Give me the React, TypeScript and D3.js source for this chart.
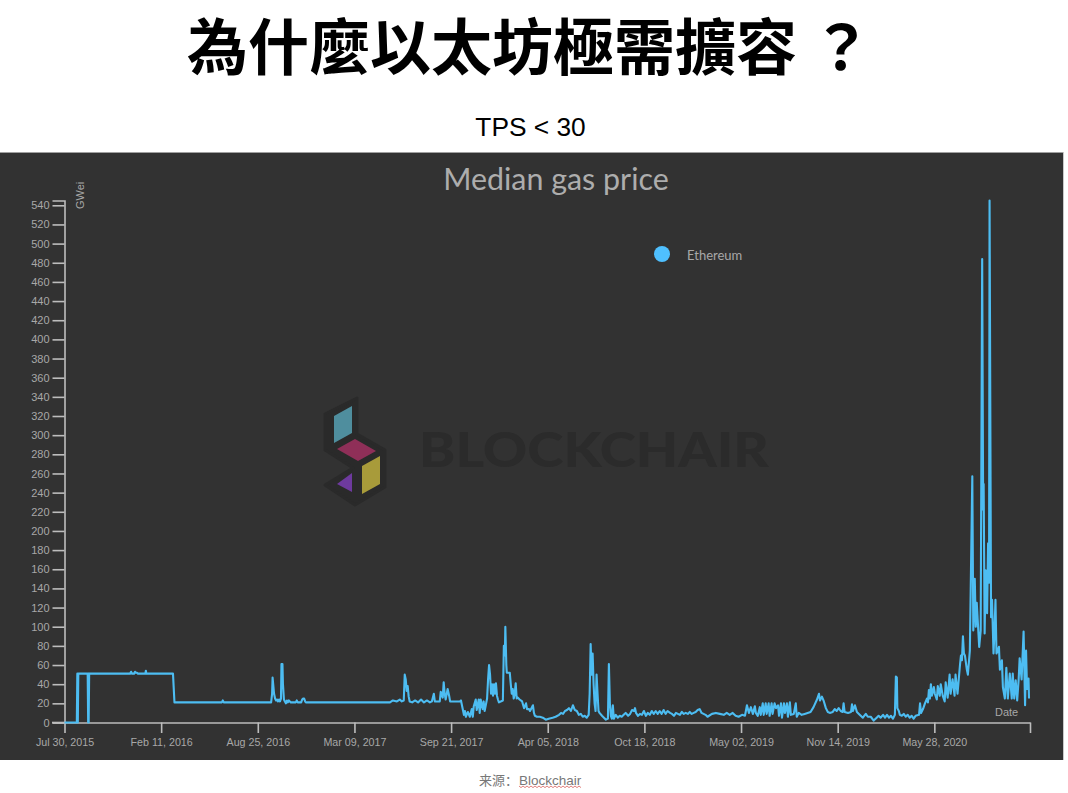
import React, { useEffect, useRef } from "react";
import * as d3 from "d3";

const chartTitle = "為什麼以太坊極需擴容 ？";
const subtitle = "TPS < 30";
const panelTitle = "Median gas price";
const seriesName = "Ethereum";
const startDate = new Date(Date.UTC(2015, 6, 30));
const endDate = new Date(Date.UTC(2020, 11, 8));

const xTickDates = [
  [2015, 6, 30], [2016, 1, 11], [2016, 7, 25], [2017, 2, 9], [2017, 8, 21],
  [2018, 3, 5], [2018, 9, 18], [2019, 4, 2], [2019, 10, 14], [2020, 4, 28], [2020, 11, 8],
].map(([y, m, d]) => new Date(Date.UTC(y, m, d)));
const xTickLabels = [
  "Jul 30, 2015", "Feb 11, 2016", "Aug 25, 2016", "Mar 09, 2017", "Sep 21, 2017",
  "Apr 05, 2018", "Oct 18, 2018", "May 02, 2019", "Nov 14, 2019", "May 28, 2020", "",
];
const yTicks = [
  0, 20, 40, 60, 80, 100, 120, 140, 160, 180, 200, 220, 240, 260, 280,
  300, 320, 340, 360, 380, 400, 420, 440, 460, 480, 500, 520, 540,
];

// [days since Jul 30 2015, median gas price in GWei]
const era2015: [number, number][] = [
  [0,0],[25,0],[26,51],[27,0],[28,51],[47,51],[48,0],[49,51],[49,0],[50,51],[133,51],[135,53],[137,51],[141,51],[143,53],[145,52],[147,52],[149,51],
  [164,51],[165,54],[166,51],[220,51],[223,21],[319,21],[321,23],[323,21],[419,21],[421,30],[422,47],[425,30],[427,25],
  [429,23],[431,24],[433,22],[435,24],[437,22],[439,25],[440,61],[442,61],[443,40],[445,24],[447,22],[449,20],[451,23],
  [453,21],[455,23],[457,22],[459,21],[469,21],[471,23],[473,21],[480,21],[482,24],[484,25],[486,25],[488,22],[490,21],
];
const era2017: [number, number][] = [
  [660,21],[666,23],[674,22],[680,24],[684,22],[688,23],[690,50],[692,45],[694,33],[696,38],[698,27],[700,22],[705,21],
  [711,23],[717,21],[723,24],[729,21],[735,23],[741,21],[745,22],[749,30],[751,22],[761,22],[763,32],[767,26],[769,42],
  [771,30],[773,24],[777,35],[780,28],[782,22],[802,22],[804,23],[808,13],[810,8],[812,12],[814,6],[818,11],[822,6],
  [826,14],[828,6],[830,17],[834,24],[836,13],[840,24],[842,10],[844,24],[848,14],[850,22],[852,12],[857,25],[859,45],
  [861,60],[863,50],[865,30],[867,40],[869,28],[871,40],[873,30],[875,41],[877,28],[879,24],[881,21],[889,23],[891,80],
  [893,70],[894,100],[896,60],[897,52],[903,52],[905,40],[907,30],[909,35],[911,25],[913,30],[915,41],[917,25],[919,26],
  [923,24],[928,22],[932,15],[936,20],[938,14],[942,14],[944,12],[948,16],[950,18],[952,10],[954,7],[958,6],
];
const era2018: [number, number][] = [
  [964,6],[970,5],[976,3],[982,4],[990,5],[996,6],[1003,8],[1007,10],[1011,9],[1015,12],[1019,13],[1023,15],[1027,12],
  [1031,18],[1035,13],[1039,12],[1043,8],[1047,9],[1051,6],[1055,7],[1059,5],[1063,8],[1065,30],[1067,82],[1069,50],
  [1071,72],[1073,40],[1075,20],[1077,12],[1079,50],[1081,30],[1083,12],[1085,10],[1090,7],[1094,5],[1098,3],[1102,4],
  [1104,61],[1106,20],[1108,7],[1110,4],[1112,18],[1114,4],[1118,8],[1122,5],[1126,7],[1130,6],[1134,8],[1138,10],
  [1143,7],[1147,9],[1151,13],[1155,12],[1157,15],[1159,10],[1163,7],[1167,9],[1171,8],[1175,12],[1179,7],[1183,10],
  [1187,8],[1191,12],[1195,9],[1199,12],[1203,9],[1207,12],[1211,9],[1215,13],[1219,9],[1223,12],[1228,10],[1232,9],
  [1236,7],[1240,10],[1244,9],[1248,8],[1252,11],[1256,9],[1260,10],[1264,9],[1268,11],[1272,9],[1276,10],[1280,11],
  [1284,13],[1288,14],[1292,10],[1296,9],[1300,8],[1304,6],[1313,9],[1321,10],[1329,9],
];
const era2019: [number, number][] = [
  [1337,8],[1343,10],[1349,8],[1355,10],[1361,7],[1367,6],[1374,8],[1380,7],[1384,18],[1388,10],[1392,16],[1396,9],
  [1400,17],[1402,10],[1406,7],[1410,16],[1412,8],[1416,20],[1418,8],[1422,20],[1424,9],[1428,20],[1430,7],[1434,20],
  [1436,9],[1440,20],[1443,15],[1447,18],[1449,7],[1453,20],[1455,5],[1459,20],[1461,10],[1465,20],[1467,6],[1471,21],
  [1473,8],[1479,9],[1483,20],[1485,6],[1489,10],[1495,8],[1501,9],[1507,10],[1513,11],[1519,16],[1526,24],[1530,30],
  [1532,23],[1536,27],[1540,22],[1544,15],[1548,11],[1552,10],[1558,11],[1562,14],[1566,12],[1570,15],[1574,12],
  [1578,11],[1580,20],[1582,11],[1589,10],[1595,11],[1597,19],[1599,12],[1603,18],[1607,11],[1611,9],[1619,5],[1625,9],
  [1629,6],[1635,6],[1641,2],[1647,5],[1651,7],[1655,5],[1660,8],[1664,5],[1668,8],[1672,5],[1676,7],[1680,4],[1684,8],
  [1686,48],[1688,47],[1689,15],[1692,12],[1694,8],[1698,7],[1702,9],[1706,6],[1710,8],[1714,5],[1718,7],[1722,4],[1726,7],
];
const era2020: [number, number][] = [
  [1733,8],[1735,20],[1737,10],[1741,14],[1745,20],[1749,25],[1751,21],[1753,34],[1755,25],[1757,40],[1759,28],[1763,37],
  [1765,30],[1769,24],[1771,38],[1775,28],[1777,40],[1781,28],[1785,22],[1787,42],[1791,26],[1795,50],[1797,30],[1801,45],
  [1805,28],[1807,50],[1811,30],[1814,48],[1816,60],[1818,70],[1820,65],[1822,90],[1824,72],[1826,70],[1830,55],[1832,50],
  [1836,75],[1841,257],[1843,96],[1846,150],[1848,100],[1850,125],[1855,79],[1858,96],[1861,484],[1863,222],[1864,249],
  [1866,93],[1868,159],[1871,114],[1873,187],[1875,146],[1876,545],[1879,110],[1881,128],[1884,72],[1886,96],[1888,128],
  [1890,72],[1895,79],[1897,55],[1901,65],[1903,37],[1907,25],[1910,57],[1913,25],[1917,51],[1921,25],[1923,51],[1926,25],
  [1929,44],[1932,23],[1935,45],[1937,67],[1941,45],[1945,95],[1948,18],[1950,75],[1952,35],[1955,46],[1956,25],
];
const series = [...era2015, ...era2017, ...era2018, ...era2019, ...era2020];

const LOGO_OUTLINE = "M325 414L357 398L357 434L385 450L385 487L355 505L325 485L353 468L325 450Z";

export default function App() {
  const xRef = useRef<SVGGElement>(null);
  const yRef = useRef<SVGGElement>(null);
  const x = d3.scaleUtc().domain([startDate, endDate]).range([64.5, 1030]);
  const y = d3.scaleLinear().domain([0, 545]).range([722.5, 200.5]);
  const line = d3
    .line<[number, number]>()
    .x((d) => x(d3.utcDay.offset(startDate, d[0])))
    .y((d) => y(d[1]));

  useEffect(() => {
    const style = (g: d3.Selection<SVGGElement, unknown, null, undefined>, size: number) => {
      g.selectAll("path, line").attr("stroke", "#bdbdbd").attr("stroke-width", 1.6);
      g.selectAll("text")
        .attr("fill", "#a8a8a8")
        .attr("font-family", "'Liberation Sans', Arial, sans-serif")
        .attr("font-size", size);
    };
    const gx = d3.select(xRef.current!);
    gx.call(
      d3.axisBottom(x).tickValues(xTickDates).tickSize(10.5).tickSizeOuter(0).tickPadding(5)
        .tickFormat((_, i) => xTickLabels[i]) as any
    );
    style(gx, 10.7);
    const gy = d3.select(yRef.current!);
    gy.call(d3.axisLeft(y).tickValues(yTicks).tickSize(12).tickSizeOuter(12).tickPadding(3).tickFormat(d3.format("d")) as any);
    style(gy, 11);
  }, []);

  const waveSegs = d3.range(0, 32);
  const wave = d3.line<number>().x((i) => 519 + i * 2).y((i) => 786 + (i % 2) * 1.6)(waveSegs);

  return (
    <svg width={1068} height={793} style={{ position: "absolute", left: 0, top: 0, background: "#fff" }}>
      <text x={187} y={70} fontFamily="'Noto Sans CJK TC'" fontWeight={700} fontSize={61} fill="#000">
        {chartTitle}
      </text>
      <text x={530.5} y={136} textAnchor="middle" fontFamily="'Liberation Sans'" fontSize={26.3} fill="#000">
        {subtitle}
      </text>

      <rect x={0} y={152} width={1064} height={608} fill="#323232" />
      <rect x={0} y={152} width={1064} height={1} fill="#a0a0a0" />
      <rect x={1063} y={152} width={1} height={608} fill="#c8c8c8" />

      <g>
        <path d={LOGO_OUTLINE} fill="#2a2a2a" stroke="#2a2a2a" strokeWidth={3} strokeLinejoin="round" />
        <polygon points="334,416 352,406 352,433 334,443" fill="#4f8e9e" />
        <polygon points="337,449 355,439 376,451 358,461" fill="#8f2f58" />
        <polygon points="362,466 380,456 380,484 362,494" fill="#a89b3a" />
        <polygon points="337,484 352,473 352,492" fill="#6e3a9e" />
        <text x={419} y={467} fontFamily="Lato, sans-serif" fontWeight={900} fontSize={47} fill="#2b2b2b" textLength={350} lengthAdjust="spacingAndGlyphs">
          BLOCKCHAIR
        </text>
      </g>

      <text x={556} y={190} textAnchor="middle" fontFamily="Lato, sans-serif" fontSize={30.4} fill="#adadad">
        {panelTitle}
      </text>
      <circle cx={662} cy={254} r={8} fill="#4fc0ff" />
      <text x={687} y={260} fontFamily="Lato, sans-serif" fontSize={13} fill="#a8a8a8">
        {seriesName}
      </text>

      <g ref={yRef} transform="translate(64.5,0)" />
      <g ref={xRef} transform="translate(0,722.5)" />
      <line x1={52} x2={64.5} y1={722.5} y2={722.5} stroke="#bdbdbd" strokeWidth={1.6} />
      <text transform="translate(84,209) rotate(-90)" fontFamily="'Liberation Sans'" fontSize={11} fill="#a8a8a8">GWei</text>
      <text x={995} y={716} fontFamily="'Liberation Sans'" fontSize={11} fill="#a8a8a8">Date</text>

      <path d={line(series) ?? ""} fill="none" stroke="#4dbdf2" strokeWidth={2.1} strokeLinejoin="round" />

      <text x={479} y={785} fontFamily="'Noto Sans CJK SC'" fontSize={13} fill="#777">来源：</text>
      <text x={519} y={785} fontFamily="'Liberation Sans'" fontSize={13.5} fill="#777">Blockchair</text>
      <path d={wave ?? ""} fill="none" stroke="#d8605a" strokeWidth={0.8} />
    </svg>
  );
}
